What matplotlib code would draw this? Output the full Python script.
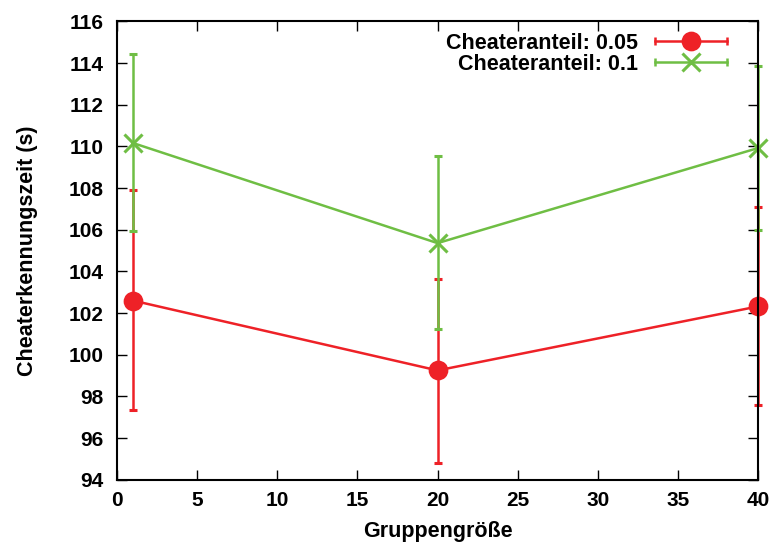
import matplotlib
matplotlib.use("Agg")
import matplotlib.pyplot as plt
from matplotlib.lines import Line2D
from matplotlib.legend_handler import HandlerLine2D, HandlerTuple

plt.rcParams['font.family'] = ['Liberation Sans', 'DejaVu Sans']
plt.rcParams['font.weight'] = 'bold'

group_sizes = [1, 20, 40]

mean_005 = [102.6, 99.25, 102.32]
low_005 = [97.33, 94.8, 97.57]
high_005 = [107.9, 103.66, 107.07]

mean_01 = [110.16, 105.36, 109.92]
low_01 = [105.94, 101.23, 106.0]
high_01 = [114.45, 109.52, 113.87]

labels = ["Cheateranteil: 0.05", "Cheateranteil: 0.1"]
xticks = [0, 5, 10, 15, 20, 25, 30, 35, 40]
yticks = list(range(94, 117, 2))

red = '#ee2127'
green = '#6fbe44'

fig = plt.figure(figsize=(7.71, 5.49), dpi=100)
ax = fig.add_axes([0.152, 0.126, 0.831, 0.835])

series = [
    (mean_005, low_005, high_005, red, 'o', 12),
    (mean_01, low_01, high_01, green, 'x', 13),
]
handles = []
hmap = {}
for (m, lo, hi, col, mk, ms), lab in zip(series, labels):
    yerr = [[a - b for a, b in zip(m, lo)], [b - a for a, b in zip(m, hi)]]
    ax.errorbar(group_sizes, m, yerr=yerr, color=col, lw=1.8, elinewidth=1.8,
                capsize=3, capthick=1.8, marker=mk, ms=ms, mew=2.2,
                clip_on=False, zorder=2)
    # legend sample: horizontal bar with end caps and the marker in the middle
    main = Line2D([], [], color=col, lw=1.8, marker=mk, ms=ms, mew=2.2)
    caps = Line2D([], [], color=col, lw=1.8, marker='|', ms=6, mew=1.8,
                  linestyle='none')
    hmap[caps] = HandlerLine2D(numpoints=2, marker_pad=0)
    handles.append((main, caps))
hmap[tuple] = HandlerTuple(ndivide=1, pad=0)

ax.set_xlim(0, 40)
ax.set_ylim(94, 116)
ax.set_xticks(xticks)
ax.set_yticks(yticks)
ax.tick_params(direction='in', length=7, width=1, labelsize=15,
               top=True, right=True)
ax.tick_params(axis='y', pad=10)
ax.tick_params(axis='x', pad=8)
for s in ax.spines.values():
    s.set_linewidth(1.5)
    s.set_zorder(3)

ax.set_xlabel("Gruppengröße", fontsize=15.5, fontweight='bold', labelpad=8)
ax.set_ylabel("Cheaterkennungszeit (s)", fontsize=15.5, fontweight='bold',
              labelpad=22)

leg = ax.legend(handles, labels, handler_map=hmap, loc='upper right',
                markerfirst=False, frameon=False, fontsize=15.5,
                handlelength=3.35, handletextpad=0.8, labelspacing=0.0,
                borderpad=0, borderaxespad=0, bbox_to_anchor=(0.952, 0.975))

fig.savefig("out.png", dpi=100)
